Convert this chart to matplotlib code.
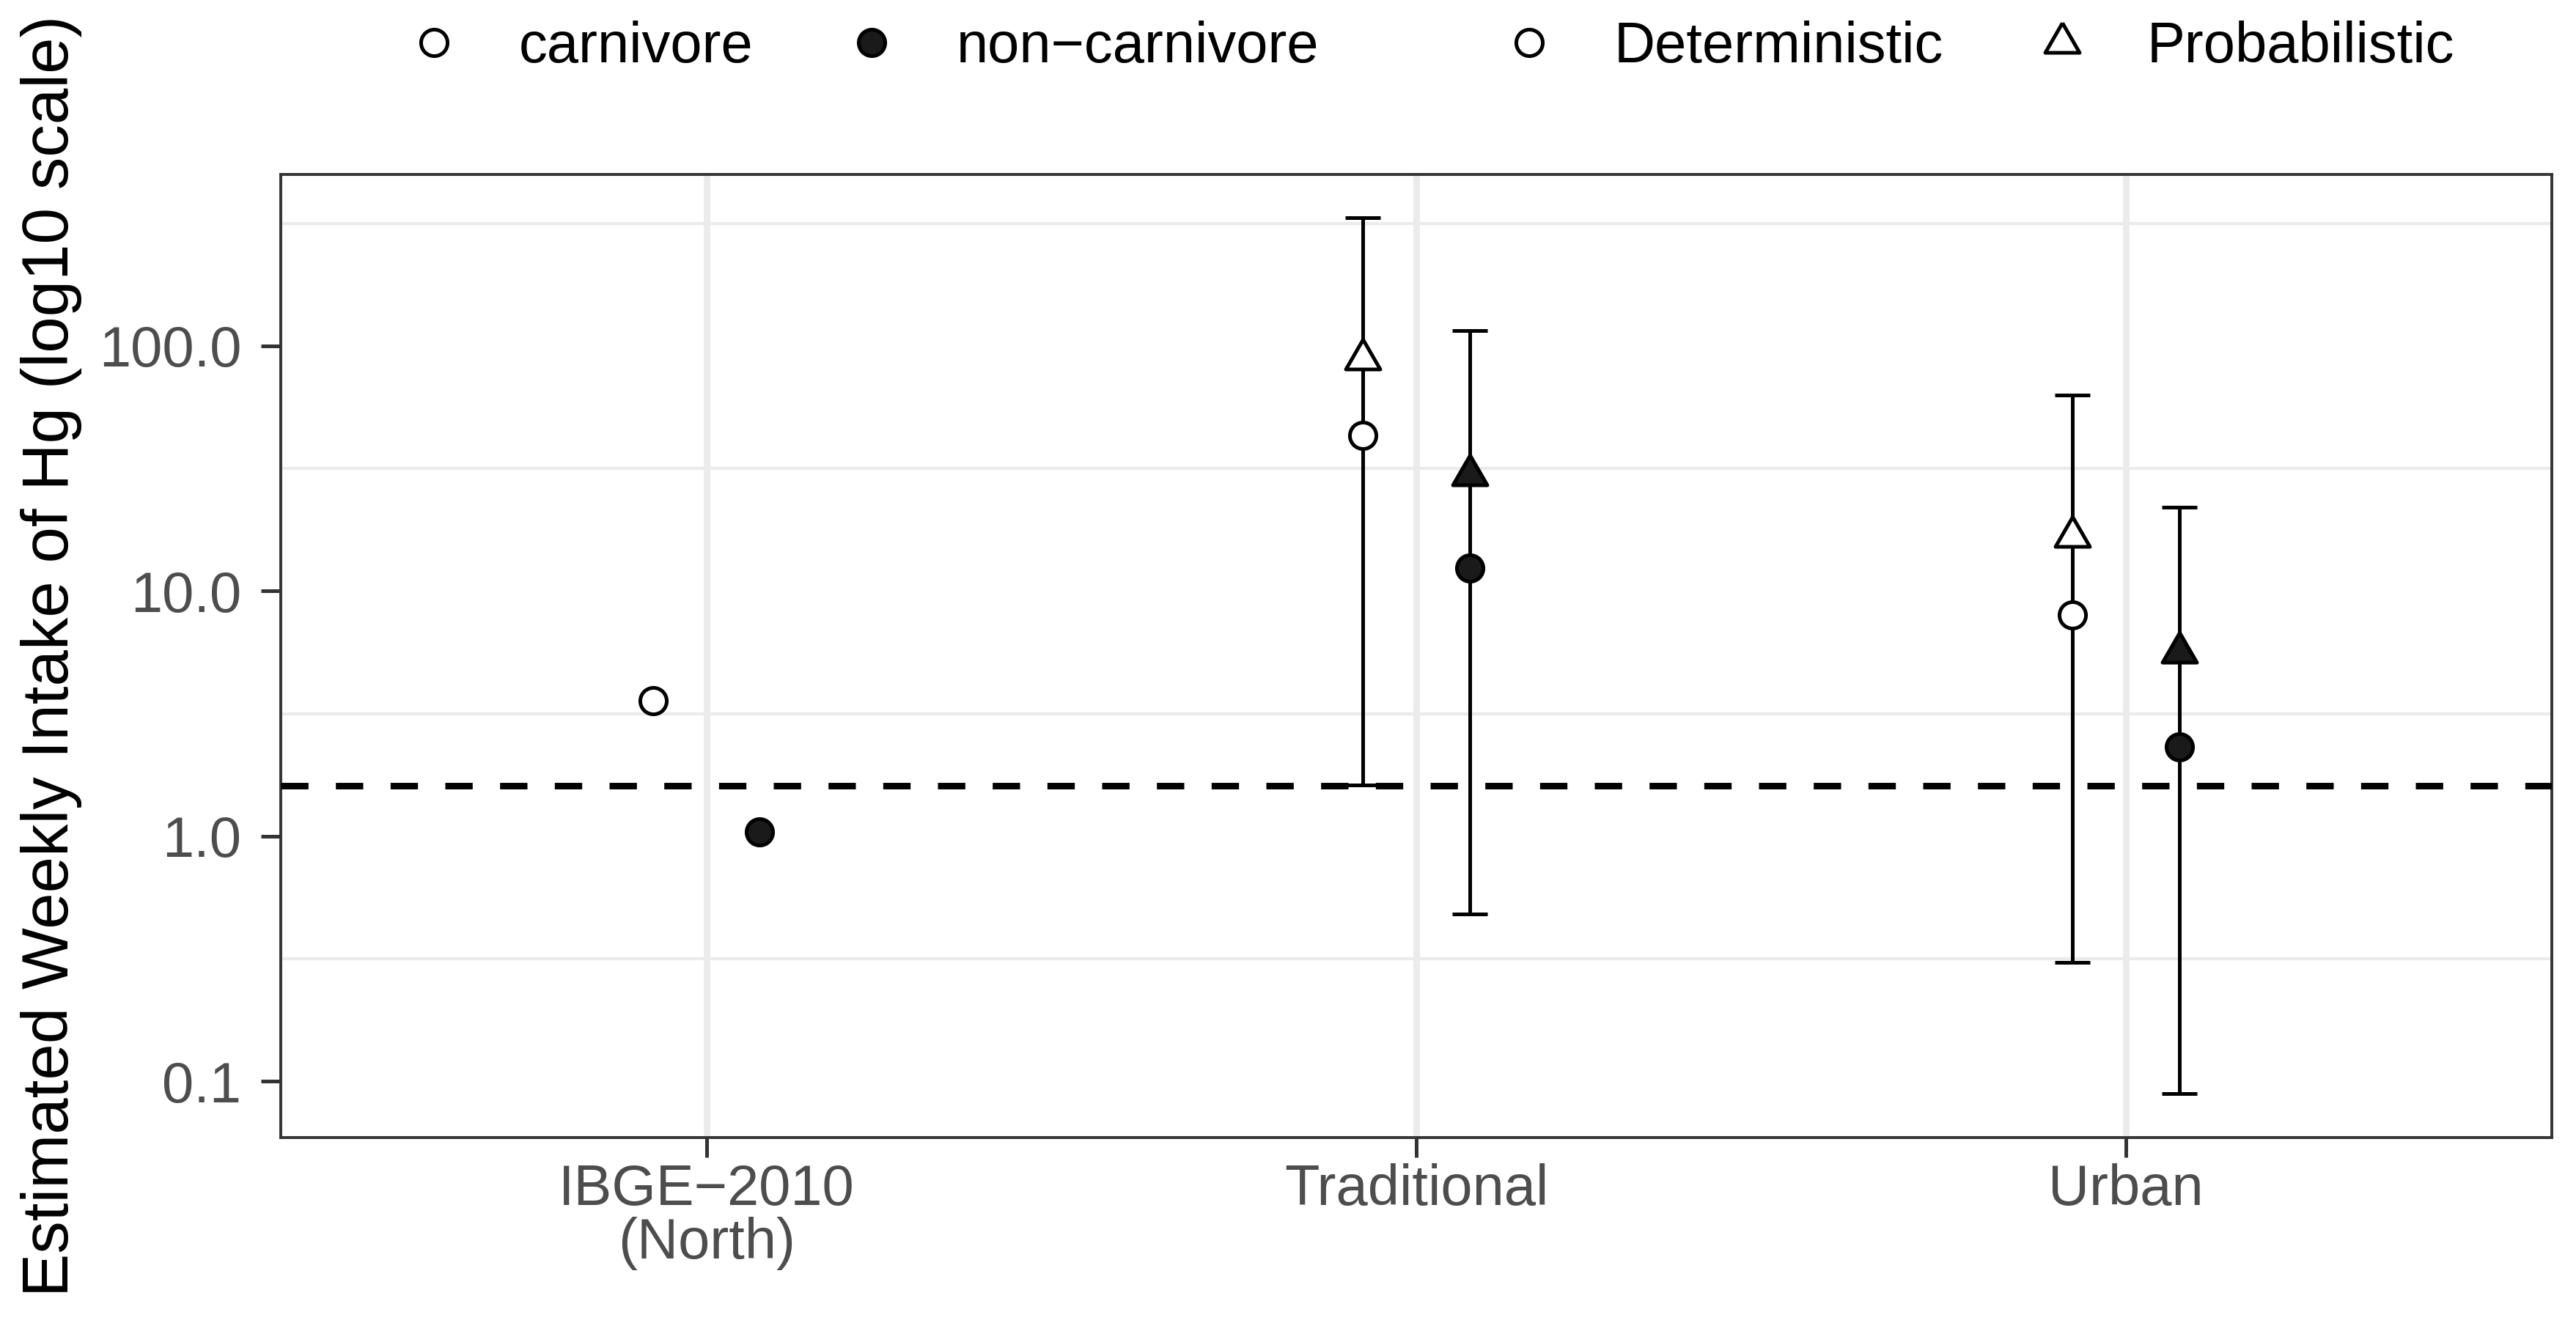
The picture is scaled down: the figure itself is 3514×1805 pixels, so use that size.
import matplotlib.pyplot as plt
from matplotlib.lines import Line2D
from matplotlib.ticker import FixedLocator, NullFormatter
import numpy as np

plt.rcParams['font.family'] = ['Liberation Sans', 'DejaVu Sans']

# data
groups = ["IBGE\u22122010\n(North)", "Traditional", "Urban"]
det_carnivore = [3.56, 43.2, 7.96]
det_noncarnivore = [1.04, 12.45, 2.31]
prob_carnivore = [np.nan, 88.5, 16.7]
prob_noncarnivore = [np.nan, 29.7, 5.61]
prob_carnivore_low = [np.nan, 1.62, 0.306]
prob_carnivore_high = [np.nan, 333.0, 62.9]
prob_noncarnivore_low = [np.nan, 0.481, 0.089]
prob_noncarnivore_high = [np.nan, 115.5, 22.0]
ptwi = 1.6

ylabel = "Estimated Weekly Intake of Hg (log10 scale)"

# triangle with centroid at marker centre (like R pch 24)
tri = [(0, 1), (-0.866, -0.5), (0.866, -0.5), (0, 1)]

fig = plt.figure(figsize=(17.57, 9.025), dpi=200)
ax = fig.add_axes([0.1090, 0.1403, 0.8816, 0.7281])

x = np.arange(len(groups))
dodge = 0.075
dark = "#1a1a1a"
circ_ms = 13
tri_ms = 19.5
mew = 1.8

series = [
    (x - dodge, det_carnivore, prob_carnivore, prob_carnivore_low, prob_carnivore_high, "white"),
    (x + dodge, det_noncarnivore, prob_noncarnivore, prob_noncarnivore_low, prob_noncarnivore_high, dark),
]

for xs, det, prob, lo, hi, fc in series:
    prob = np.array(prob)
    lo = np.array(lo)
    hi = np.array(hi)
    ok = ~np.isnan(prob)
    ax.errorbar(xs[ok], prob[ok], yerr=[prob[ok] - lo[ok], hi[ok] - prob[ok]],
                fmt="none", ecolor="black", elinewidth=1.8, capsize=8.7,
                capthick=1.8, zorder=2)
    ax.plot(xs, det, "o", ms=circ_ms, mfc=fc, mec="black", mew=mew, zorder=3)
    ax.plot(xs[ok], prob[ok], marker=tri, ls="none", ms=tri_ms, mfc=fc,
            mec="black", mew=mew, zorder=3)

ax.axhline(ptwi, color="black", lw=3.2, ls=(0, (4.2, 4.2)), zorder=4)

ax.set_yscale("log")
allv = np.array(det_carnivore + det_noncarnivore + prob_carnivore_low + prob_carnivore_high
                + prob_noncarnivore_low + prob_noncarnivore_high)
allv = np.log10(allv[~np.isnan(allv)])
span = allv.max() - allv.min()
ax.set_ylim(10 ** (allv.min() - 0.05 * span), 10 ** (allv.max() + 0.05 * span))
ax.set_xlim(-0.6, len(groups) - 0.4)

ax.yaxis.set_major_locator(FixedLocator([0.1, 1, 10, 100]))
ax.set_yticklabels(["0.1", "1.0", "10.0", "100.0"])
ax.yaxis.set_minor_locator(FixedLocator([10 ** -0.5, 10 ** 0.5, 10 ** 1.5, 10 ** 2.5]))
ax.yaxis.set_minor_formatter(NullFormatter())
ax.set_xticks(x, groups)

ax.grid(False)
ax.grid(True, axis="x", which="major", color="#ebebeb", lw=3.2, zorder=0)
ax.grid(True, axis="y", which="minor", color="#ebebeb", lw=1.5, zorder=0)
ax.set_axisbelow(True)

ax.tick_params(axis="both", which="major", length=9.7, width=1.8, color="#333333",
               labelcolor="#4d4d4d", labelsize=28, pad=9.7)
ax.tick_params(axis="x", pad=3)
ax.tick_params(axis="y", which="minor", length=0)
for lab in ax.get_xticklabels():
    lab.set_linespacing(1.0)
for s in ax.spines.values():
    s.set_color("#333333")
    s.set_linewidth(1.4)

ax.set_ylabel(ylabel, fontsize=32, color="black")
ax.yaxis.set_label_coords(-0.0875, 0.5)

# legends on top
leg1 = [Line2D([], [], ls="none", marker="o", ms=circ_ms, mfc="white", mec="black", mew=mew),
        Line2D([], [], ls="none", marker="o", ms=circ_ms, mfc=dark, mec="black", mew=mew)]
leg2 = [Line2D([], [], ls="none", marker="o", ms=circ_ms, mfc="white", mec="black", mew=mew),
        Line2D([], [], ls="none", marker=tri, ms=tri_ms, mfc="white", mec="black", mew=mew)]
kw = dict(ncol=2, frameon=False, fontsize=28, handlelength=1.0, handletextpad=0.99,
          columnspacing=1.58, loc="center", borderpad=0, borderaxespad=0)
l1 = fig.legend(leg1, ["carnivore", "non\u2212carnivore"], bbox_to_anchor=(0.3347, 0.964), **kw)
l2 = fig.legend(leg2, ["Deterministic", "Probabilistic"], bbox_to_anchor=(0.7677, 0.964), **kw)

fig.savefig("out.png", dpi=200, facecolor="white")
